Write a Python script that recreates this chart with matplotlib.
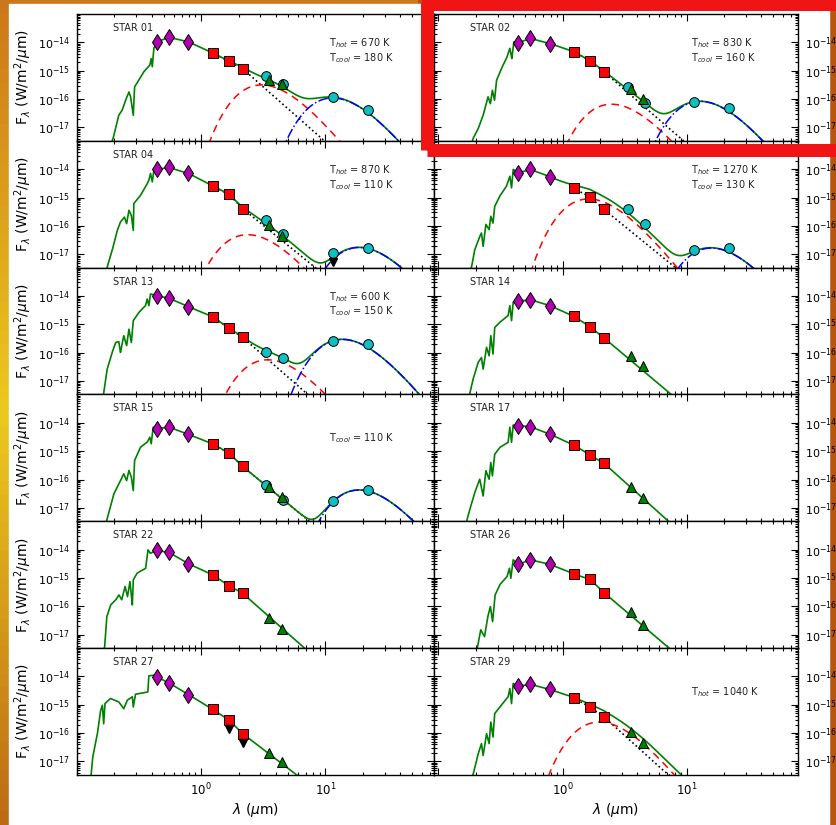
import numpy as np
import matplotlib.pyplot as plt
from matplotlib.patches import Rectangle
from matplotlib.ticker import FixedLocator, FixedFormatter, LogLocator, NullFormatter

# Panel names in grid order (two columns, six rows)
stars = ['STAR 01', 'STAR 02', 'STAR 04', '', 'STAR 13', 'STAR 14',
         'STAR 15', 'STAR 17', 'STAR 22', 'STAR 26', 'STAR 27', 'STAR 29']

# Dust temperatures (K) and log10 peak flux of each blackbody
t_hot = [670, 830, 870, 1270, 600, None, None, None, None, None, None, 1040]
t_cool = [180, 160, 110, 130, 150, None, 110, None, None, None, None, None]
hot_peak = [-15.50, -16.18, -16.31, -15.05, -16.25, None, None, None, None, None, None, -15.61]
cool_peak = [-15.96, -16.08, -16.76, -16.78, -15.53, None, -16.37, None, None, None, None, None]

# Photometry, log10 F_lambda in W/m2/um
opt_lam = [0.44, 0.55, 0.79]           # B V I
nir_lam = [1.235, 1.662, 2.159]        # J H K
wise_lam = [3.35, 4.6, 11.56, 22.08]   # W1 - W4
irac_lam = [3.55, 4.49]                # IRAC 3.6 / 4.5

opt_flux = [
    [-13.98, -13.82, -13.98], [-14.01, -13.86, -14.04], [-14.01, -13.94, -14.15],
    [-14.13, -14.01, -14.27], [-13.99, -14.08, -14.38], [-14.19, -14.13, -14.34],
    [-14.21, -14.15, -14.41], [-14.10, -14.14, -14.40], [-14.03, -14.10, -14.50],
    [-14.52, -14.36, -14.52], [-14.02, -14.23, -14.64], [-14.35, -14.28, -14.46],
]
nir_flux = [
    [-14.37, -14.66, -14.93], [-14.33, -14.65, -15.04], [-14.59, -14.88, -15.39],
    [-14.68, -14.98, -15.42], [-14.73, -15.13, -15.46], [-14.72, -15.08, -15.48],
    [-14.74, -15.06, -15.54], [-14.79, -15.13, -15.43], [-14.89, -15.27, -15.54],
    [-14.86, -15.05, -15.52], [-15.16, -15.53, -16.02], [-14.76, -15.08, -15.43],
]
wise_flux = [
    [-15.19, -15.47, -15.92, -16.37], [-15.59, -16.13, -16.10, -16.30],
    [-15.80, -16.27, -16.96, -16.77], [-15.40, -15.93, -16.84, -16.78],
    [-15.96, -16.19, -15.59, -15.68], None,
    [-16.18, -16.71, -16.77, -16.36], None, None, None, None, None,
]
irac_flux = [
    [-15.31, -15.48], [-15.66, -15.98], [-15.98, -16.37], None, None,
    [-16.13, -16.48], [-16.25, -16.63], [-16.25, -16.64], [-16.40, -16.81],
    [-16.21, -16.66], [-16.70, -17.02], [-15.96, -16.34],
]
# upper limits (drawn with a downward arrow)
nir_limit = {10: [False, True, True]}
wise_limit = {2: [False, False, True, False]}

# Stellar model: UV part of the spectrum and the end of the Rayleigh-Jeans tail
uv_lam = [
    [0.196, 0.217, 0.231, 0.246, 0.262, 0.270, 0.284, 0.291, 0.315, 0.345, 0.386, 0.396, 0.404, 0.416],
    [0.190, 0.209, 0.229, 0.251, 0.262, 0.272, 0.283, 0.294, 0.322, 0.357, 0.376, 0.390, 0.405],
    [0.175, 0.192, 0.211, 0.224, 0.241, 0.251, 0.262, 0.274, 0.284, 0.287, 0.325, 0.368, 0.379, 0.391, 0.404, 0.416],
    [0.185, 0.196, 0.215, 0.222, 0.229, 0.241, 0.256, 0.264, 0.275, 0.284, 0.312, 0.353, 0.376, 0.388, 0.400],
    [0.164, 0.175, 0.192, 0.205, 0.217, 0.224, 0.238, 0.251, 0.262, 0.274, 0.284, 0.315, 0.356, 0.368, 0.379, 0.391],
    [0.179, 0.190, 0.209, 0.222, 0.229, 0.244, 0.256, 0.264, 0.275, 0.284, 0.312, 0.364, 0.376, 0.388, 0.400],
    [0.175, 0.198, 0.211, 0.224, 0.238, 0.251, 0.262, 0.274, 0.284, 0.291, 0.325, 0.368, 0.386, 0.396, 0.411],
    [0.168, 0.179, 0.196, 0.215, 0.229, 0.241, 0.256, 0.264, 0.272, 0.284, 0.312, 0.364, 0.376, 0.388, 0.400],
    [0.167, 0.174, 0.187, 0.205, 0.218, 0.229, 0.244, 0.255, 0.267, 0.279, 0.284, 0.305, 0.357, 0.373, 0.390, 0.416],
    [0.206, 0.219, 0.235, 0.250, 0.262, 0.273, 0.286, 0.312, 0.357, 0.373, 0.383, 0.400],
    [0.130, 0.134, 0.146, 0.155, 0.160, 0.164, 0.168, 0.186, 0.217, 0.238, 0.254, 0.279, 0.284, 0.296, 0.372, 0.379, 0.416],
    [0.190, 0.209, 0.222, 0.229, 0.244, 0.256, 0.264, 0.275, 0.284, 0.312, 0.364, 0.376, 0.388, 0.400],
]
uv_flux = [
    [-17.36, -16.57, -16.39, -16.04, -15.75, -15.92, -16.57, -15.57, -15.33, -15.04, -14.80, -14.57, -14.86, -14.21],
    [-17.39, -17.04, -16.57, -15.92, -16.16, -15.69, -16.04, -15.33, -14.92, -14.51, -14.21, -14.57, -13.98],
    [-17.45, -16.86, -16.16, -15.86, -15.69, -15.92, -15.45, -15.63, -16.16, -15.21, -14.92, -14.51, -14.39, -14.15, -14.45, -14.04],
    [-17.43, -16.84, -16.37, -16.25, -16.72, -15.95, -16.13, -15.66, -15.90, -15.31, -14.95, -14.60, -14.25, -14.66, -14.01],
    [-17.43, -16.58, -15.99, -15.64, -15.61, -15.99, -15.40, -15.75, -15.17, -15.64, -14.87, -14.58, -14.34, -14.11, -14.34, -13.93],
    [-17.43, -16.93, -16.34, -16.17, -16.58, -15.81, -16.11, -15.40, -16.05, -15.11, -14.93, -14.69, -14.34, -14.87, -14.22],
    [-17.39, -16.51, -16.27, -16.04, -15.80, -16.04, -15.68, -15.92, -16.39, -15.33, -14.86, -14.68, -14.51, -14.74, -14.15],
    [-17.49, -17.05, -16.46, -15.99, -16.58, -15.69, -15.99, -15.40, -15.87, -15.11, -14.87, -14.69, -14.16, -14.69, -14.08],
    [-17.42, -16.36, -15.95, -15.77, -15.60, -15.77, -15.30, -15.66, -15.13, -15.95, -15.07, -14.83, -14.66, -14.01, -14.13, -14.07],
    [-17.45, -16.83, -17.07, -16.36, -16.01, -16.54, -15.60, -15.24, -14.95, -14.66, -15.01, -14.36],
    [-17.46, -16.84, -16.02, -15.20, -15.02, -15.67, -14.96, -14.78, -14.90, -15.14, -14.84, -14.72, -15.08, -14.63, -14.55, -13.98, -13.96],
    [-17.46, -16.73, -16.37, -16.79, -16.02, -16.37, -15.61, -16.14, -15.31, -15.08, -14.72, -14.43, -14.96, -14.25],
]
tail_lam = [9.1, 8.5, 7.6, 7.3, 6.9, 7.3, 7.8, 7.2, 6.8, 7.1, 5.8, 6.5]
tail_flux = [-17.34, -17.30, -17.33, -17.31, -17.40, -17.43, -17.55, -17.49, -17.48, -17.45, -17.46, -17.32]
edge_lam = [0.12, 80.0]
edge_flux = [-20.0, -21.0]

W, H = 837, 825
fig = plt.figure(figsize=(W / 100, H / 100), dpi=100)

# slide background: gold frame with a white page
bg = fig.add_axes([0, 0, 1, 1], zorder=-10)
bg.axis('off')
ramp = np.linspace(0, 1, 60)[:, None]
top_c, mid_c, bot_c = np.array([0.80, 0.47, 0.10]), np.array([0.93, 0.79, 0.12]), np.array([0.74, 0.42, 0.08])
left = np.where(ramp < 0.5, top_c + (mid_c - top_c) * ramp * 2, mid_c + (bot_c - mid_c) * (ramp - 0.5) * 2)
right = np.tile([[0.72, 0.34, 0.06]], (60, 1))
bg.imshow(np.stack([left, right], axis=1), extent=[0, 1, 0, 1], aspect='auto')
bg.add_patch(Rectangle((9 / W, 0), (829 - 9) / W, (H - 4) / H, color='white'))
bg.set_xlim(0, 1)
bg.set_ylim(0, 1)


def dust(lam, temp, peak):
    # modified blackbody (emissivity ~ lambda^-2), scaled to its peak
    shape = lam ** -7.0 / np.expm1(14388.0 / (lam * temp))
    return 10 ** peak * shape / shape.max()


col_x = [(77, 434), (434, 798)]
col_xlim = [(0.1, 75), (0.092, 79)]
row_top, row_h = 14, 126.8
mk = dict(linestyle='none', markeredgecolor='black', markeredgewidth=0.7, zorder=5)

for i, name in enumerate(stars):
    r, c = divmod(i, 2)
    x0, x1 = col_x[c]
    ax = fig.add_axes([x0 / W, 1 - (row_top + (r + 1) * row_h) / H, (x1 - x0) / W, row_h / H])
    ax.set_xscale('log')
    ax.set_yscale('log')

    knots_lam = np.array(edge_lam[:1] + uv_lam[i] + opt_lam + nir_lam + [tail_lam[i]] + edge_lam[1:])
    knots_flux = np.array(edge_flux[:1] + uv_flux[i] + opt_flux[i] + nir_flux[i] + [tail_flux[i]] + edge_flux[1:])
    lam = np.unique(np.concatenate([knots_lam, np.logspace(-1.05, 1.95, 600)]))
    star = 10 ** np.interp(np.log10(lam), np.log10(knots_lam), knots_flux)
    total = star.copy()
    has_dust = False
    if t_hot[i]:
        hot = dust(lam, t_hot[i], hot_peak[i])
        total += hot
        has_dust = True
        ax.plot(lam, hot, color='red', lw=1.1, dashes=(5, 3.5), zorder=3)
    if t_cool[i]:
        cool = dust(lam, t_cool[i], cool_peak[i])
        total += cool
        has_dust = True
        ax.plot(lam, cool, color='blue', lw=1.1, linestyle='-.', zorder=3)
    if has_dust:
        sel = lam > 1.2
        ax.plot(lam[sel], star[sel], color='black', lw=1.2, linestyle=':', zorder=1.5)
    ax.plot(lam, total, color='green', lw=1.2, zorder=2)

    # photometric points
    ax.plot(opt_lam, 10 ** np.array(opt_flux[i]), marker='d', ms=8.5, color='#B000B0', **mk)
    ax.plot(nir_lam, 10 ** np.array(nir_flux[i]), marker='s', ms=7, color='red', **mk)
    if wise_flux[i]:
        ax.plot(wise_lam, 10 ** np.array(wise_flux[i]), marker='o', ms=7, color='#10C0C0', **mk)
    if irac_flux[i]:
        ax.plot(irac_lam, 10 ** np.array(irac_flux[i]), marker='^', ms=7, color='#008000', **mk)
    for lams, fluxes, flags in [(nir_lam, nir_flux[i], nir_limit.get(i)),
                                (wise_lam, wise_flux[i], wise_limit.get(i))]:
        if not flags:
            continue
        for l, f, flag in zip(lams, fluxes, flags):
            if flag:
                ax.plot([l, l], [10 ** f, 10 ** (f - 0.3)], color='black', lw=1.2, zorder=4)
                ax.plot([l], [10 ** (f - 0.33)], marker='v', ms=6, color='black', linestyle='none', zorder=6)

    ax.set_xlim(*col_xlim[c])
    ax.set_ylim(10 ** -17.47, 1e-13)
    ax.xaxis.set_major_locator(FixedLocator([0.1, 1, 10]))
    ax.xaxis.set_major_formatter(FixedFormatter(['', r'$\mathdefault{10^{0}}$', r'$\mathdefault{10^{1}}$']))
    ax.xaxis.set_minor_locator(LogLocator(base=10, subs=np.arange(2, 10)))
    ax.xaxis.set_minor_formatter(NullFormatter())
    ax.yaxis.set_major_locator(FixedLocator([1e-17, 1e-16, 1e-15, 1e-14]))
    ax.yaxis.set_minor_locator(LogLocator(base=10, subs=np.arange(2, 10)))
    ax.yaxis.set_minor_formatter(NullFormatter())
    ax.tick_params(which='both', direction='in', top=True, right=True, width=0.8)
    ax.tick_params(which='major', length=5, labelsize=8, pad=5)
    ax.tick_params(which='minor', length=2.5)
    ax.tick_params(axis='x', labelbottom=(r == 5), labelsize=8.5)
    if c == 0:
        ax.set_ylabel(r'F$_\lambda$ (W/m$^2$/$\mu$m)', fontsize=10)
        ax.yaxis.set_label_coords(-0.12, 0.5)
    else:
        ax.tick_params(axis='y', labelleft=False, labelright=True)
    if r == 5:
        ax.set_xlabel(r'$\lambda$ ($\mu$m)', fontsize=10, labelpad=2)
    for sp in ax.spines.values():
        sp.set_linewidth(1.0)

    if name:
        ax.text(0.10, 0.89, name, transform=ax.transAxes, fontsize=7, va='center', color='#222222')
    lines = []
    if t_hot[i]:
        lines.append(r'T$_{hot}$ = %d K' % t_hot[i])
    if t_cool[i]:
        lines.append(r'T$_{cool}$ = %d K' % t_cool[i])
    for k, txt in enumerate(lines):
        y = 0.653 if k == len(lines) - 1 else 0.771
        ax.text(0.705, y, txt, transform=ax.transAxes, fontsize=7, va='center', color='#222222')

# red highlight box around the second panel
fig.add_artist(Rectangle((426.5 / W, 1 - 150 / H), (842 - 426.5) / W, (150 - 4) / H,
                         fill=False, edgecolor='#F01414', lw=13 * 0.72, joinstyle='round',
                         transform=fig.transFigure, zorder=20))

fig.savefig('out.png', dpi=100)
